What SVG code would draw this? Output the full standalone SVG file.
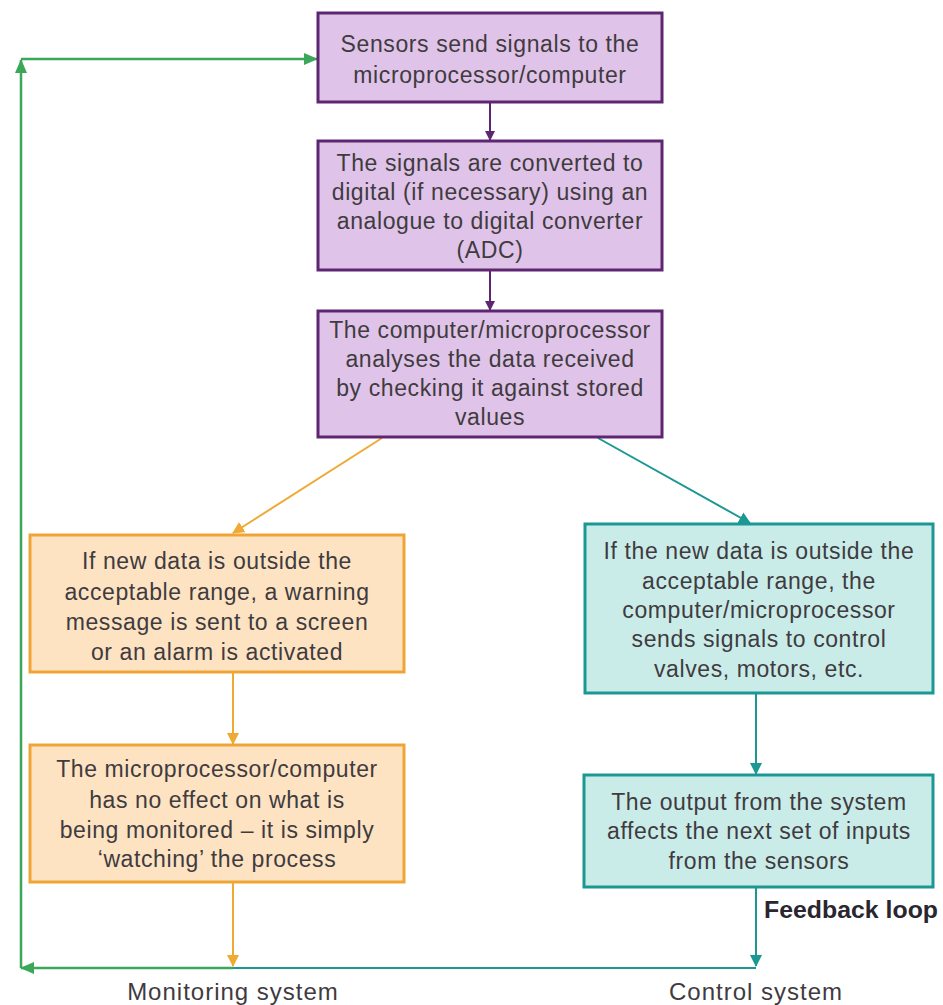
<svg xmlns="http://www.w3.org/2000/svg" width="943" height="1005" viewBox="0 0 943 1005">
<defs>
<style>
.t{font-family:"Liberation Sans",Arial,sans-serif;font-size:23px;letter-spacing:0.6px;fill:#3f3b3f;text-anchor:middle}
.lab{font-family:"Liberation Sans",Arial,sans-serif;font-size:24px;letter-spacing:1px;fill:#3f3b3f;text-anchor:middle}
.fb{font-family:"Liberation Sans",Arial,sans-serif;font-size:24px;font-weight:bold;fill:#2a2630}
.pbox{fill:#dfc3e8;stroke:#5e2670;stroke-width:3}
.obox{fill:#fde3c2;stroke:#efa536;stroke-width:3}
.tbox{fill:#c9ece9;stroke:#1c9894;stroke-width:3}
.cp{stroke:#5e2670;stroke-width:2;fill:none}
.co{stroke:#eeaa33;stroke-width:2;fill:none}
.ct{stroke:#1c9894;stroke-width:2;fill:none}
.cg{stroke:#3aa858;stroke-width:2.5;fill:none}
</style>
<marker id="ap" markerWidth="10" markerHeight="10" refX="9" refY="5" orient="auto" markerUnits="userSpaceOnUse"><path d="M0,0 L10,5 L0,10 Z" fill="#5e2670"/></marker>
<marker id="ao" markerWidth="12" markerHeight="12" refX="11" refY="6" orient="auto" markerUnits="userSpaceOnUse"><path d="M0,0 L12,6 L0,12 Z" fill="#eeaa33"/></marker>
<marker id="at" markerWidth="12" markerHeight="12" refX="11" refY="6" orient="auto" markerUnits="userSpaceOnUse"><path d="M0,0 L12,6 L0,12 Z" fill="#1c9894"/></marker>
<marker id="ag" markerWidth="14" markerHeight="12" refX="13" refY="6" orient="auto" markerUnits="userSpaceOnUse"><path d="M0,0 L14,6 L0,12 Z" fill="#3aa858"/></marker>
</defs>
<rect width="943" height="1005" fill="#ffffff"/>
<g id="connectors">
<line class="cp" x1="490" y1="102" x2="490" y2="140" marker-end="url(#ap)"/>
<line class="cp" x1="490" y1="270" x2="490" y2="310" marker-end="url(#ap)"/>
<line class="co" x1="382" y1="438" x2="233" y2="533" marker-end="url(#ao)"/>
<line class="ct" x1="598" y1="438" x2="750" y2="523" marker-end="url(#at)"/>
<line class="co" x1="233" y1="672" x2="233" y2="744" marker-end="url(#ao)"/>
<line class="ct" x1="756" y1="693" x2="756" y2="774" marker-end="url(#at)"/>
<line class="co" x1="233" y1="882" x2="233" y2="966" marker-end="url(#ao)"/>
<line class="ct" x1="756" y1="887" x2="756" y2="966" marker-end="url(#at)"/>
<line class="ct" x1="756" y1="968" x2="233" y2="968"/>
<line class="cg" x1="233" y1="968" x2="21" y2="968" marker-end="url(#ag)"/>
<line class="cg" x1="21" y1="968" x2="21" y2="60" marker-end="url(#ag)"/>
<line class="cg" x1="21" y1="59" x2="317" y2="59" marker-end="url(#ag)"/>
</g>
<g id="n1">
<rect class="pbox" x="318" y="13" width="344" height="89"/>
<text class="t" x="490" y="52">Sensors send signals to the</text>
<text class="t" x="490" y="83">microprocessor/computer</text>
</g>
<g id="n2">
<rect class="pbox" x="318" y="141" width="344" height="129"/>
<text class="t" x="490" y="171">The signals are converted to</text>
<text class="t" x="490" y="200">digital (if necessary) using an</text>
<text class="t" x="490" y="229">analogue to digital converter</text>
<text class="t" x="490" y="258">(ADC)</text>
</g>
<g id="n3">
<rect class="pbox" x="318" y="311" width="344" height="126"/>
<text class="t" x="490" y="338">The computer/microprocessor</text>
<text class="t" x="490" y="367">analyses the data received</text>
<text class="t" x="490" y="396">by checking it against stored</text>
<text class="t" x="490" y="425">values</text>
</g>
<g id="n4">
<rect class="obox" x="30" y="535" width="374" height="137"/>
<text class="t" x="217" y="569">If new data is outside the</text>
<text class="t" x="217" y="600">acceptable range, a warning</text>
<text class="t" x="217" y="630">message is sent to a screen</text>
<text class="t" x="217" y="660">or an alarm is activated</text>
</g>
<g id="n5">
<rect class="obox" x="30" y="745" width="374" height="137"/>
<text class="t" x="217" y="777">The microprocessor/computer</text>
<text class="t" x="217" y="808">has no effect on what is</text>
<text class="t" x="217" y="838">being monitored – it is simply</text>
<text class="t" x="217" y="867">‘watching’ the process</text>
</g>
<g id="n6">
<rect class="tbox" x="585" y="524" width="348" height="169"/>
<text class="t" x="759" y="559">If the new data is outside the</text>
<text class="t" x="759" y="589">acceptable range, the</text>
<text class="t" x="759" y="618">computer/microprocessor</text>
<text class="t" x="759" y="647">sends signals to control</text>
<text class="t" x="759" y="677">valves, motors, etc.</text>
</g>
<g id="n7">
<rect class="tbox" x="584" y="775" width="349" height="112"/>
<text class="t" x="759" y="810">The output from the system</text>
<text class="t" x="759" y="839">affects the next set of inputs</text>
<text class="t" x="759" y="869">from the sensors</text>
</g>
<g id="labels">
<text class="fb" x="764" y="918" textLength="174" lengthAdjust="spacingAndGlyphs">Feedback loop</text>
<text class="lab" x="233" y="1000">Monitoring system</text>
<text class="lab" x="756" y="1000">Control system</text>
</g>
</svg>
